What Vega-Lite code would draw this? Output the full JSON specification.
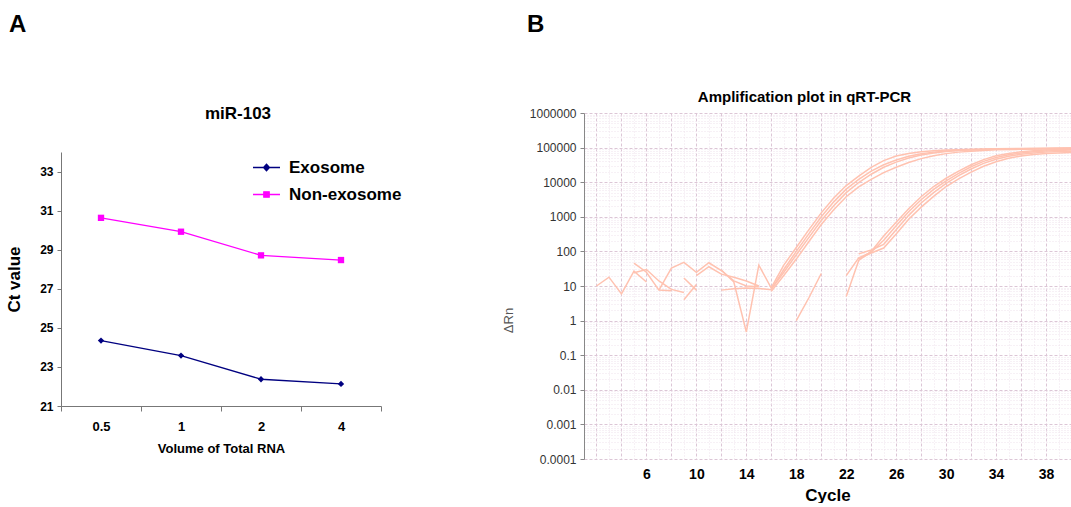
{
  "$schema": "https://vega.github.io/schema/vega-lite/v6.json",
  "padding": {"left": 5, "top": 13, "right": 0, "bottom": 0},
  "config": {"font": "Liberation Sans", "view": {"stroke": null}},
  "spacing": 120,
  "datasets": {
    "ct": [
      {"Volume": 0.5, "Sample": "Exosome", "Ct": 24.35},
      {"Volume": 1, "Sample": "Exosome", "Ct": 23.58},
      {"Volume": 2, "Sample": "Exosome", "Ct": 22.37},
      {"Volume": 4, "Sample": "Exosome", "Ct": 22.13},
      {"Volume": 0.5, "Sample": "Non-exosome", "Ct": 30.63},
      {"Volume": 1, "Sample": "Non-exosome", "Ct": 29.92},
      {"Volume": 2, "Sample": "Non-exosome", "Ct": 28.71},
      {"Volume": 4, "Sample": "Non-exosome", "Ct": 28.47}
    ],
    "amp": [
      {"Curve": "N1", "Cycle": 2, "dRn": 10}, {"Curve": "N1", "Cycle": 3, "dRn": 18}, {"Curve": "N1", "Cycle": 4, "dRn": 5.9}, {"Curve": "N1", "Cycle": 5, "dRn": 27}, {"Curve": "N1", "Cycle": 6, "dRn": 13},
      {"Curve": "N2", "Cycle": 5, "dRn": 46}, {"Curve": "N2", "Cycle": 6, "dRn": 25}, {"Curve": "N2", "Cycle": 7, "dRn": 7.6}, {"Curve": "N2", "Cycle": 8, "dRn": 7.3},
      {"Curve": "N3", "Cycle": 5, "dRn": 24}, {"Curve": "N3", "Cycle": 6, "dRn": 30}, {"Curve": "N3", "Cycle": 7, "dRn": 14}, {"Curve": "N3", "Cycle": 8, "dRn": 8}, {"Curve": "N3", "Cycle": 9, "dRn": 6.5},
      {"Curve": "N4", "Cycle": 7, "dRn": 7.6}, {"Curve": "N4", "Cycle": 8, "dRn": 33}, {"Curve": "N4", "Cycle": 9, "dRn": 48}, {"Curve": "N4", "Cycle": 10, "dRn": 25}, {"Curve": "N4", "Cycle": 11, "dRn": 47}, {"Curve": "N4", "Cycle": 12, "dRn": 28}, {"Curve": "N4", "Cycle": 13, "dRn": 14}, {"Curve": "N4", "Cycle": 14, "dRn": 10}, {"Curve": "N4", "Cycle": 15, "dRn": 9.5},
      {"Curve": "N5", "Cycle": 9, "dRn": 17}, {"Curve": "N5", "Cycle": 10, "dRn": 7.6},
      {"Curve": "N6", "Cycle": 9, "dRn": 4}, {"Curve": "N6", "Cycle": 10, "dRn": 11},
      {"Curve": "N7", "Cycle": 10, "dRn": 20}, {"Curve": "N7", "Cycle": 11, "dRn": 36}, {"Curve": "N7", "Cycle": 12, "dRn": 22}, {"Curve": "N7", "Cycle": 13, "dRn": 18}, {"Curve": "N7", "Cycle": 14, "dRn": 14}, {"Curve": "N7", "Cycle": 15, "dRn": 10},
      {"Curve": "N8", "Cycle": 12, "dRn": 29}, {"Curve": "N8", "Cycle": 13, "dRn": 13}, {"Curve": "N8", "Cycle": 14, "dRn": 0.47}, {"Curve": "N8", "Cycle": 15, "dRn": 40}, {"Curve": "N8", "Cycle": 16, "dRn": 8.7},
      {"Curve": "N9", "Cycle": 12, "dRn": 7.6}, {"Curve": "N9", "Cycle": 13, "dRn": 8.3}, {"Curve": "N9", "Cycle": 14, "dRn": 8.7}, {"Curve": "N9", "Cycle": 15, "dRn": 8.5}, {"Curve": "N9", "Cycle": 16, "dRn": 7.8},
      {"Curve": "N10", "Cycle": 18, "dRn": 1}, {"Curve": "N10", "Cycle": 19, "dRn": 4.5}, {"Curve": "N10", "Cycle": 20, "dRn": 23},
      {"Curve": "E1", "Cycle": 16, "dRn": 9}, {"Curve": "E1", "Cycle": 17, "dRn": 40}, {"Curve": "E1", "Cycle": 18, "dRn": 130}, {"Curve": "E1", "Cycle": 19, "dRn": 420}, {"Curve": "E1", "Cycle": 20, "dRn": 1300}, {"Curve": "E1", "Cycle": 21, "dRn": 3500}, {"Curve": "E1", "Cycle": 22, "dRn": 8000}, {"Curve": "E1", "Cycle": 23, "dRn": 15000}, {"Curve": "E1", "Cycle": 24, "dRn": 27000}, {"Curve": "E1", "Cycle": 25, "dRn": 42000}, {"Curve": "E1", "Cycle": 26, "dRn": 57000}, {"Curve": "E1", "Cycle": 27, "dRn": 68000}, {"Curve": "E1", "Cycle": 28, "dRn": 76000}, {"Curve": "E1", "Cycle": 29, "dRn": 81000}, {"Curve": "E1", "Cycle": 30, "dRn": 85000}, {"Curve": "E1", "Cycle": 31, "dRn": 87000}, {"Curve": "E1", "Cycle": 32, "dRn": 89000}, {"Curve": "E1", "Cycle": 34, "dRn": 92000}, {"Curve": "E1", "Cycle": 36, "dRn": 94000}, {"Curve": "E1", "Cycle": 38, "dRn": 96000}, {"Curve": "E1", "Cycle": 40, "dRn": 98000},
      {"Curve": "E2", "Cycle": 16, "dRn": 8}, {"Curve": "E2", "Cycle": 17, "dRn": 30}, {"Curve": "E2", "Cycle": 18, "dRn": 100}, {"Curve": "E2", "Cycle": 19, "dRn": 320}, {"Curve": "E2", "Cycle": 20, "dRn": 1000}, {"Curve": "E2", "Cycle": 21, "dRn": 2700}, {"Curve": "E2", "Cycle": 22, "dRn": 6300}, {"Curve": "E2", "Cycle": 23, "dRn": 12000}, {"Curve": "E2", "Cycle": 24, "dRn": 21000}, {"Curve": "E2", "Cycle": 25, "dRn": 32000}, {"Curve": "E2", "Cycle": 26, "dRn": 44000}, {"Curve": "E2", "Cycle": 27, "dRn": 56000}, {"Curve": "E2", "Cycle": 28, "dRn": 66000}, {"Curve": "E2", "Cycle": 29, "dRn": 74000}, {"Curve": "E2", "Cycle": 30, "dRn": 80000}, {"Curve": "E2", "Cycle": 31, "dRn": 84000}, {"Curve": "E2", "Cycle": 32, "dRn": 87000}, {"Curve": "E2", "Cycle": 34, "dRn": 90000}, {"Curve": "E2", "Cycle": 36, "dRn": 92000}, {"Curve": "E2", "Cycle": 38, "dRn": 94000}, {"Curve": "E2", "Cycle": 40, "dRn": 96000},
      {"Curve": "E3", "Cycle": 16, "dRn": 8}, {"Curve": "E3", "Cycle": 17, "dRn": 25}, {"Curve": "E3", "Cycle": 18, "dRn": 80}, {"Curve": "E3", "Cycle": 19, "dRn": 250}, {"Curve": "E3", "Cycle": 20, "dRn": 780}, {"Curve": "E3", "Cycle": 21, "dRn": 2100}, {"Curve": "E3", "Cycle": 22, "dRn": 5000}, {"Curve": "E3", "Cycle": 23, "dRn": 9800}, {"Curve": "E3", "Cycle": 24, "dRn": 17000}, {"Curve": "E3", "Cycle": 25, "dRn": 27000}, {"Curve": "E3", "Cycle": 26, "dRn": 38000}, {"Curve": "E3", "Cycle": 27, "dRn": 50000}, {"Curve": "E3", "Cycle": 28, "dRn": 61000}, {"Curve": "E3", "Cycle": 29, "dRn": 70000}, {"Curve": "E3", "Cycle": 30, "dRn": 77000}, {"Curve": "E3", "Cycle": 31, "dRn": 82000}, {"Curve": "E3", "Cycle": 32, "dRn": 85000}, {"Curve": "E3", "Cycle": 34, "dRn": 89000}, {"Curve": "E3", "Cycle": 36, "dRn": 91000}, {"Curve": "E3", "Cycle": 38, "dRn": 93000}, {"Curve": "E3", "Cycle": 40, "dRn": 95000},
      {"Curve": "E4", "Cycle": 16, "dRn": 7}, {"Curve": "E4", "Cycle": 17, "dRn": 20}, {"Curve": "E4", "Cycle": 18, "dRn": 60}, {"Curve": "E4", "Cycle": 19, "dRn": 190}, {"Curve": "E4", "Cycle": 20, "dRn": 600}, {"Curve": "E4", "Cycle": 21, "dRn": 1600}, {"Curve": "E4", "Cycle": 22, "dRn": 3800}, {"Curve": "E4", "Cycle": 23, "dRn": 7300}, {"Curve": "E4", "Cycle": 24, "dRn": 12000}, {"Curve": "E4", "Cycle": 25, "dRn": 19000}, {"Curve": "E4", "Cycle": 26, "dRn": 27000}, {"Curve": "E4", "Cycle": 27, "dRn": 37000}, {"Curve": "E4", "Cycle": 28, "dRn": 48000}, {"Curve": "E4", "Cycle": 29, "dRn": 58000}, {"Curve": "E4", "Cycle": 30, "dRn": 67000}, {"Curve": "E4", "Cycle": 31, "dRn": 74000}, {"Curve": "E4", "Cycle": 32, "dRn": 79000}, {"Curve": "E4", "Cycle": 34, "dRn": 86000}, {"Curve": "E4", "Cycle": 36, "dRn": 89000}, {"Curve": "E4", "Cycle": 38, "dRn": 92000}, {"Curve": "E4", "Cycle": 40, "dRn": 94000},
      {"Curve": "L1", "Cycle": 22, "dRn": 5}, {"Curve": "L1", "Cycle": 23, "dRn": 55}, {"Curve": "L1", "Cycle": 24, "dRn": 100}, {"Curve": "L1", "Cycle": 25, "dRn": 280}, {"Curve": "L1", "Cycle": 26, "dRn": 700}, {"Curve": "L1", "Cycle": 27, "dRn": 1700}, {"Curve": "L1", "Cycle": 28, "dRn": 3800}, {"Curve": "L1", "Cycle": 29, "dRn": 7500}, {"Curve": "L1", "Cycle": 30, "dRn": 13000}, {"Curve": "L1", "Cycle": 31, "dRn": 21000}, {"Curve": "L1", "Cycle": 32, "dRn": 32000}, {"Curve": "L1", "Cycle": 33, "dRn": 45000}, {"Curve": "L1", "Cycle": 34, "dRn": 58000}, {"Curve": "L1", "Cycle": 35, "dRn": 68000}, {"Curve": "L1", "Cycle": 36, "dRn": 76000}, {"Curve": "L1", "Cycle": 37, "dRn": 81000}, {"Curve": "L1", "Cycle": 38, "dRn": 85000}, {"Curve": "L1", "Cycle": 39, "dRn": 88000}, {"Curve": "L1", "Cycle": 40, "dRn": 90000},
      {"Curve": "L2", "Cycle": 22, "dRn": 20}, {"Curve": "L2", "Cycle": 23, "dRn": 65}, {"Curve": "L2", "Cycle": 24, "dRn": 95}, {"Curve": "L2", "Cycle": 25, "dRn": 210}, {"Curve": "L2", "Cycle": 26, "dRn": 550}, {"Curve": "L2", "Cycle": 27, "dRn": 1400}, {"Curve": "L2", "Cycle": 28, "dRn": 3100}, {"Curve": "L2", "Cycle": 29, "dRn": 6200}, {"Curve": "L2", "Cycle": 30, "dRn": 11000}, {"Curve": "L2", "Cycle": 31, "dRn": 18000}, {"Curve": "L2", "Cycle": 32, "dRn": 28000}, {"Curve": "L2", "Cycle": 33, "dRn": 40000}, {"Curve": "L2", "Cycle": 34, "dRn": 52000}, {"Curve": "L2", "Cycle": 35, "dRn": 62000}, {"Curve": "L2", "Cycle": 36, "dRn": 70000}, {"Curve": "L2", "Cycle": 37, "dRn": 76000}, {"Curve": "L2", "Cycle": 38, "dRn": 80000}, {"Curve": "L2", "Cycle": 39, "dRn": 83000}, {"Curve": "L2", "Cycle": 40, "dRn": 85000},
      {"Curve": "L3", "Cycle": 23, "dRn": 85}, {"Curve": "L3", "Cycle": 24, "dRn": 110}, {"Curve": "L3", "Cycle": 25, "dRn": 160}, {"Curve": "L3", "Cycle": 26, "dRn": 420}, {"Curve": "L3", "Cycle": 27, "dRn": 1100}, {"Curve": "L3", "Cycle": 28, "dRn": 2500}, {"Curve": "L3", "Cycle": 29, "dRn": 5000}, {"Curve": "L3", "Cycle": 30, "dRn": 9200}, {"Curve": "L3", "Cycle": 31, "dRn": 15500}, {"Curve": "L3", "Cycle": 32, "dRn": 24000}, {"Curve": "L3", "Cycle": 33, "dRn": 35000}, {"Curve": "L3", "Cycle": 34, "dRn": 46000}, {"Curve": "L3", "Cycle": 35, "dRn": 56000}, {"Curve": "L3", "Cycle": 36, "dRn": 64000}, {"Curve": "L3", "Cycle": 37, "dRn": 70000}, {"Curve": "L3", "Cycle": 38, "dRn": 74000}, {"Curve": "L3", "Cycle": 39, "dRn": 77000}, {"Curve": "L3", "Cycle": 40, "dRn": 79000},
      {"Curve": "L4", "Cycle": 23, "dRn": 60}, {"Curve": "L4", "Cycle": 24, "dRn": 90}, {"Curve": "L4", "Cycle": 25, "dRn": 125}, {"Curve": "L4", "Cycle": 26, "dRn": 320}, {"Curve": "L4", "Cycle": 27, "dRn": 850}, {"Curve": "L4", "Cycle": 28, "dRn": 1900}, {"Curve": "L4", "Cycle": 29, "dRn": 3900}, {"Curve": "L4", "Cycle": 30, "dRn": 7500}, {"Curve": "L4", "Cycle": 31, "dRn": 12500}, {"Curve": "L4", "Cycle": 32, "dRn": 19500}, {"Curve": "L4", "Cycle": 33, "dRn": 29000}, {"Curve": "L4", "Cycle": 34, "dRn": 39000}, {"Curve": "L4", "Cycle": 35, "dRn": 49000}, {"Curve": "L4", "Cycle": 36, "dRn": 57000}, {"Curve": "L4", "Cycle": 37, "dRn": 63000}, {"Curve": "L4", "Cycle": 38, "dRn": 67000}, {"Curve": "L4", "Cycle": 39, "dRn": 70000}, {"Curve": "L4", "Cycle": 40, "dRn": 72000}
    ]
  },
  "hconcat": [
    {
      "spacing": 65,
      "vconcat": [
        {
          "width": 1, "height": 1,
          "data": {"values": []},
          "mark": "point",
          "title": {"text": "A", "anchor": "start", "frame": "group", "fontSize": 24, "fontWeight": "bold", "color": "black", "offset": 2, "dx": -52}
        },
        {
          "width": 320,
          "height": 254,
          "data": {"name": "ct"},
          "title": {"text": "miR-103", "fontSize": 17, "fontWeight": "bold", "color": "black", "offset": 29, "dx": 17},
          "layer": [
            {
              "mark": {"type": "line", "strokeWidth": 1.3},
              "encoding": {
                "x": {
                  "field": "Volume", "type": "quantitative",
                  "scale": {"type": "log", "base": 2, "domain": [0.35355339, 5.65685425], "nice": false},
                  "axis": {
                    "title": "Volume of Total RNA", "titleFontSize": 13, "titleFontWeight": "bold", "titleColor": "black", "titlePadding": 9,
                    "values": [0.35355339, 0.5, 0.70710678, 1, 1.41421356, 2, 2.82842712, 4, 5.65685425],
                    "labelExpr": "abs(log(datum.value)/LN2 - round(log(datum.value)/LN2)) < 0.01 ? format(datum.value, '~g') : ''",
                    "labelFontSize": 13, "labelFontWeight": "bold", "labelColor": "black", "labelPadding": 9, "labelOverlap": false,
                    "tickOpacity": {"condition": {"test": "abs(log(datum.value)/LN2 - round(log(datum.value)/LN2)) > 0.25", "value": 1}, "value": 0},
                    "tickSize": 5, "tickColor": "#777", "domainColor": "#777", "grid": false
                  }
                },
                "y": {
                  "field": "Ct", "type": "quantitative",
                  "scale": {"domain": [21, 34], "nice": false, "zero": false},
                  "axis": {
                    "title": "Ct value", "titleFontSize": 17, "titleFontWeight": "bold", "titleColor": "black", "titlePadding": 16,
                    "values": [21, 23, 25, 27, 29, 31, 33],
                    "labelFontSize": 12, "labelFontWeight": "bold", "labelColor": "black", "labelPadding": 4,
                    "tickSize": 4, "tickColor": "#777", "domainColor": "#777", "grid": false
                  }
                },
                "color": {
                  "field": "Sample", "type": "nominal",
                  "scale": {"domain": ["Exosome", "Non-exosome"], "range": ["#000080", "#FF00FF"]},
                  "legend": {
                    "title": null, "orient": "none", "legendX": 191, "legendY": 114,
                    "labelFontSize": 17, "labelFontWeight": "bold", "labelColor": "black", "labelOffset": 8,
                    "symbolSize": 729, "rowPadding": 4, "symbolStrokeWidth": 1.3,
                    "encode": {
                      "symbols": {
                        "update": {
                          "shape": {"signal": "datum.value === 'Exosome' ? 'M-1,0L1,0M0,-0.24L0.22,0L0,0.24L-0.22,0Z' : 'M-1,0L1,0M-0.2,-0.2L0.2,-0.2L0.2,0.2L-0.2,0.2Z'"},
                          "fill": {"signal": "datum.value === 'Exosome' ? '#000080' : '#FF00FF'"},
                          "stroke": {"signal": "datum.value === 'Exosome' ? '#000080' : '#FF00FF'"},
                          "strokeWidth": {"value": 1.3}
                        }
                      }
                    }
                  }
                }
              }
            },
            {
              "transform": [{"filter": "datum.Sample === 'Exosome'"}],
              "mark": {"type": "point", "filled": true, "opacity": 1, "size": 40, "shape": "diamond", "color": "#000080"},
              "encoding": {
                "x": {"field": "Volume", "type": "quantitative"},
                "y": {"field": "Ct", "type": "quantitative"}
              }
            },
            {
              "transform": [{"filter": "datum.Sample === 'Non-exosome'"}],
              "mark": {"type": "point", "filled": true, "opacity": 1, "size": 40, "shape": "square", "color": "#FF00FF"},
              "encoding": {
                "x": {"field": "Volume", "type": "quantitative"},
                "y": {"field": "Ct", "type": "quantitative"}
              }
            }
          ]
        }
      ]
    },
    {
      "spacing": 50,
      "vconcat": [
        {
          "width": 1, "height": 1,
          "data": {"values": []},
          "mark": "point",
          "title": {"text": "B", "anchor": "start", "frame": "group", "fontSize": 24, "fontWeight": "bold", "color": "black", "offset": 2, "dx": -57}
        },
        {
          "width": 487,
          "height": 346,
          "data": {"name": "amp"},
          "title": {"text": "Amplification plot in qRT-PCR", "fontSize": 15, "fontWeight": "bold", "color": "black", "offset": 2, "dx": -23},
          "mark": {"type": "line", "color": "#FFC2B0", "strokeWidth": 1.5, "clip": true},
          "encoding": {
            "x": {
              "field": "Cycle", "type": "quantitative",
              "scale": {"domain": [1, 40], "nice": false, "zero": false},
              "axis": {
                "title": "Cycle", "titleFontSize": 17, "titleFontWeight": "bold", "titleColor": "black", "titlePadding": 6,
                "values": [1,2,3,4,5,6,7,8,9,10,11,12,13,14,15,16,17,18,19,20,21,22,23,24,25,26,27,28,29,30,31,32,33,34,35,36,37,38,39,40],
                "labelExpr": "datum.value >= 6 && (datum.value - 6) % 4 == 0 ? datum.label : ''",
                "labelFontSize": 14, "labelFontWeight": "bold", "labelColor": "black", "labelPadding": 8, "labelOverlap": false,
                "ticks": false, "domain": false, "grid": true,
                "gridColor": {"condition": {"test": "datum.value % 2 == 0", "value": "#dcc6d6"}, "value": "#efe2ec"},
                "gridDash": {"condition": {"test": "datum.value % 2 == 0", "value": [3, 2]}, "value": [1, 2]},
                "gridWidth": 1
              }
            },
            "y": {
              "field": "dRn", "type": "quantitative",
              "scale": {"type": "log", "domain": [0.0001, 1000000], "nice": false},
              "axis": {
                "title": "ΔRn", "titleFontSize": 13, "titleFontWeight": "normal", "titleColor": "#555", "titleX": -69, "titleY": 207,
                "values": [0.0001,0.0002,0.0003,0.0004,0.0005,0.0006,0.0007,0.0008,0.0009,0.001,0.002,0.003,0.004,0.005,0.006,0.007,0.008,0.009,0.01,0.02,0.03,0.04,0.05,0.06,0.07,0.08,0.09,0.1,0.2,0.3,0.4,0.5,0.6,0.7,0.8,0.9,1,2,3,4,5,6,7,8,9,10,20,30,40,50,60,70,80,90,100,200,300,400,500,600,700,800,900,1000,2000,3000,4000,5000,6000,7000,8000,9000,10000,20000,30000,40000,50000,60000,70000,80000,90000,100000,200000,300000,400000,500000,600000,700000,800000,900000,1000000],
                "labelExpr": "abs(log(datum.value)/LN10 - round(log(datum.value)/LN10)) < 0.001 ? (datum.value >= 1 ? format(datum.value, 'd') : format(datum.value, '.4~f')) : ''",
                "labelFontSize": 12, "labelFontWeight": "normal", "labelColor": "#333", "labelPadding": 4, "labelOverlap": false, "labelBound": false, "labelFlush": false,
                "tickOpacity": {"condition": {"test": "abs(log(datum.value)/LN10 - round(log(datum.value)/LN10)) < 0.001", "value": 1}, "value": 0},
                "tickSize": 4, "tickColor": "#888", "domainColor": "#888", "grid": true,
                "gridColor": {"condition": {"test": "abs(log(datum.value)/LN10 - round(log(datum.value)/LN10)) < 0.001", "value": "#dcc6d6"}, "value": "#efe2ec"},
                "gridDash": {"condition": {"test": "abs(log(datum.value)/LN10 - round(log(datum.value)/LN10)) < 0.001", "value": [3, 2]}, "value": [1, 2]}
              }
            },
            "detail": {"field": "Curve", "type": "nominal"}
          }
        }
      ]
    }
  ]
}
